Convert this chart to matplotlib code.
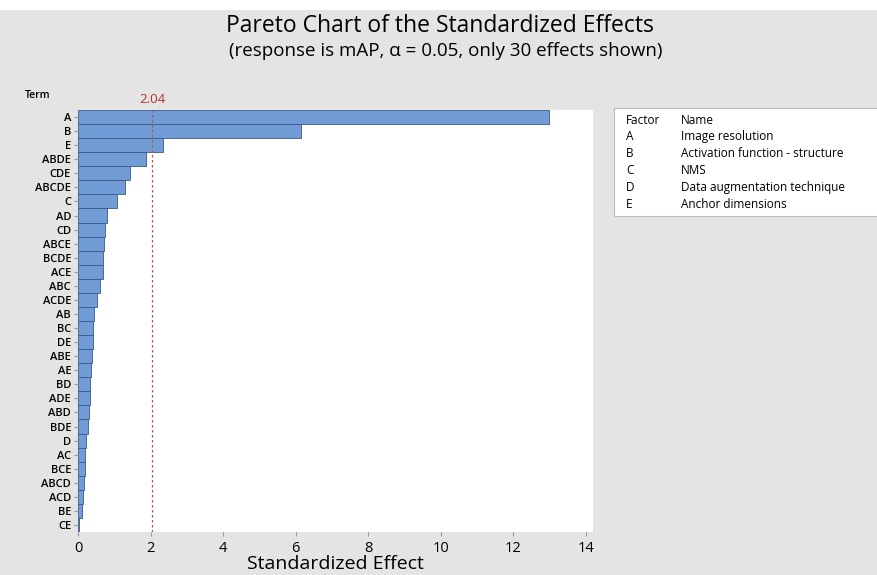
import matplotlib.pyplot as plt
from matplotlib.patches import Rectangle

plt.rcParams['font.family'] = ['Open Sans', 'DejaVu Sans']

terms = ['A', 'B', 'E', 'ABDE', 'CDE', 'ABCDE', 'C', 'AD', 'CD', 'ABCE',
         'BCDE', 'ACE', 'ABC', 'ACDE', 'AB', 'BC', 'DE', 'ABE', 'AE', 'BD',
         'ADE', 'ABD', 'BDE', 'D', 'AC', 'BCE', 'ABCD', 'ACD', 'BE', 'CE']
effects = [13.0, 6.15, 2.35, 1.88, 1.44, 1.3, 1.08, 0.8, 0.75, 0.72,
           0.7, 0.68, 0.6, 0.52, 0.43, 0.4, 0.4, 0.38, 0.36, 0.33,
           0.32, 0.3, 0.28, 0.22, 0.2, 0.19, 0.17, 0.13, 0.1, 0.03]
crit = 2.04

factors = ['A', 'B', 'C', 'D', 'E']
names = ['Image resolution', 'Activation function - structure', 'NMS',
         'Data augmentation technique', 'Anchor dimensions']

W, H = 878, 575
fig = plt.figure(figsize=(W / 100, H / 100), dpi=100)
fig.patch.set_facecolor('#e4e4e4')
# white strip along the top
fig.patches.append(Rectangle((0, 1 - 10 / H), 1, 10 / H, transform=fig.transFigure,
                             facecolor='white', edgecolor='none', zorder=0))

ax = fig.add_axes([78 / W, 1 - 532 / H, (593 - 78) / W, (532 - 110) / H])
ax.set_facecolor('white')

ypos = list(range(len(terms)))
ax.barh(ypos, effects, height=1.0, color='#729cd6', edgecolor='#3a5a8c', linewidth=0.6)
ax.axvline(crit, color='#c0504d', linestyle=(0, (2, 2)), linewidth=0.9)

ax.set_ylim(len(terms) - 0.5, -0.5)
ax.set_xlim(0, 14.2)
ax.set_yticks(ypos)
ax.set_yticklabels(terms, fontsize=8, fontweight='semibold', fontstretch='condensed')
ax.set_xticks(range(0, 15, 2))
ax.tick_params(axis='x', labelsize=10.5, length=3, color='#999999')
ax.tick_params(axis='y', length=3, color='#999999', pad=2)
for s in ax.spines.values():
    s.set_visible(False)

fig.text(335 / W, 1 - 564 / H, 'Standardized Effect', ha='center', va='center',
         fontsize=14)

fig.text(440 / W, 1 - 26 / H, 'Pareto Chart of the Standardized Effects',
         ha='center', va='center', fontsize=16.5)
fig.text(446 / W, 1 - 51 / H, '(response is mAP, \u03b1 = 0.05, only 30 effects shown)',
         ha='center', va='center', fontsize=13.5)
fig.text(38 / W, 1 - 96 / H, 'Term', ha='center', va='center', fontsize=7.5,
         fontweight='semibold')
ax.text(crit, -0.75, '2.04', ha='center', va='bottom', fontsize=9.5, color='#b03030',
        transform=ax.transData)

# factor legend box
fig.patches.append(Rectangle((614 / W, 1 - 216 / H), (878 - 614) / W, 108 / H,
                             transform=fig.transFigure, facecolor='white',
                             edgecolor='#bbbbbb', linewidth=0.8))
fig.text(626 / W, 1 - 120 / H, 'Factor', fontsize=8.5, va='center')
fig.text(681 / W, 1 - 120 / H, 'Name', fontsize=8.5, va='center')
for i, (f, n) in enumerate(zip(factors, names)):
    y = 1 - (136 + i * 17) / H
    fig.text(626 / W, y, f, fontsize=8.5, va='center')
    fig.text(681 / W, y, n, fontsize=8.5, va='center')

fig.savefig('out.png', dpi=100)
